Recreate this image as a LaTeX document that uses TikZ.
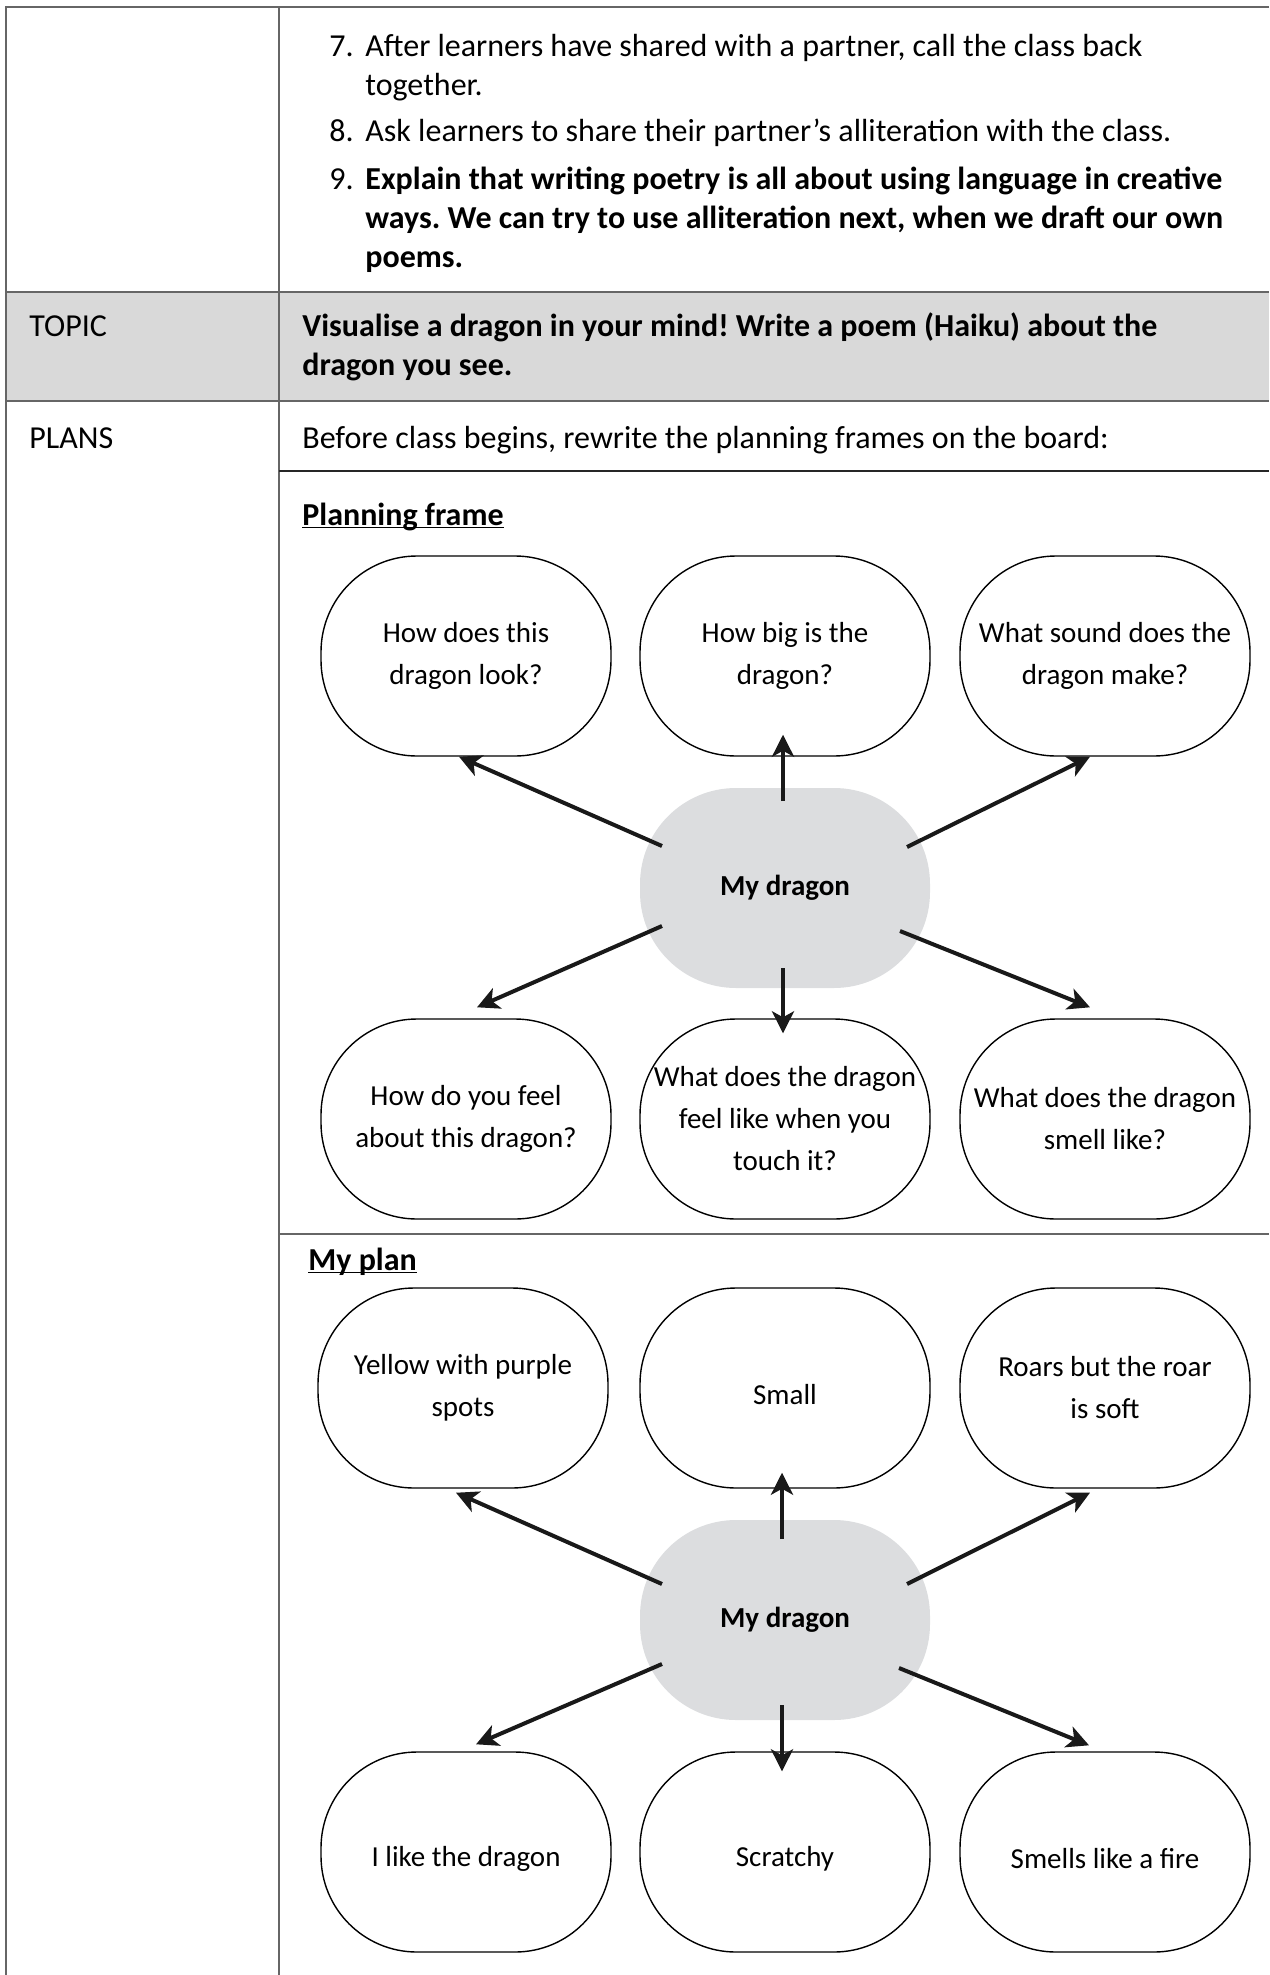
\documentclass[tikz,border=0pt]{standalone}
\usepackage{fontspec}
\setmainfont{Carlito}
\usepackage{xcolor}
\usetikzlibrary{arrows.meta}
\definecolor{hubgrey}{RGB}{220,221,223}
\definecolor{topicgrey}{RGB}{217,217,217}
\frenchspacing
\tikzset{
    rule/.style = {draw=black!60, line width=0.8pt},
    cell/.style = {inner sep=0pt, anchor=base west, align=left, font=\fontsize{16}{19.5}\selectfont},
    boldcell/.style = {cell, font=\fontsize{16}{19.5}\selectfont\bfseries},
    blob/.style = {rectangle, rounded corners=48pt, minimum width=145pt, minimum height=100pt, align=center, inner sep=0pt, font=\fontsize{14.5}{21}\selectfont},
    bubble/.style = {blob, draw=black, line width=0.7pt, execute at begin node={\rule{0pt}{17pt}}},
    hub/.style = {blob, fill=hubgrey, font=\fontsize{14.5}{21}\selectfont\bfseries},
    arr/.style = {-{Stealth[length=11pt,width=11pt,inset=3pt]}, line width=2pt, black!90}
}
\begin{document}
\begin{tikzpicture}[x=0.5pt, y=-0.5pt]
    \useasboundingbox (0,0) rectangle (1269,1975);

    % table
    \fill[topicgrey] (6,292) rectangle (1269,401);
    \draw[rule] (1269,7) -- (6,7) -- (6,1975);
    \draw[rule] (279,7) -- (279,1975);
    \draw[rule] (6,292) -- (1269,292);
    \draw[rule] (6,401) -- (1269,401);
    \draw[rule, draw=black!85] (279,471) -- (1269,471);
    \draw[rule] (279,1234) -- (1269,1234);

    % multi-line cells sit on their last line
    \node[cell] (n7) at (329,57) {7.};
    \node[cell] (t7) at (365,96) {After learners have shared with a partner, call the class back\\together.};
    \node[cell] (n8) at (329,141) {8.};
    \node[cell] (t8) at (365,141) {Ask learners to share their partner’s alliteration with the class.};
    \node[cell] (n9) at (329,189) {9.};
    \node[boldcell] (t9) at (365,267) {Explain that writing poetry is all about using language in creative\\ways. We can try to use alliteration next, when we draft our own\\poems.};

    \node[cell] (topic) at (29,336) {TOPIC};
    \node[boldcell] (topictxt) at (302,375) {Visualise a dragon in your mind! Write a poem (Haiku) about the\\dragon you see.};
    \node[cell] (plans) at (29,448) {PLANS};
    \node[cell] (before) at (302,448) {Before class begins, rewrite the planning frames on the board:};

    % planning frame
    \node[boldcell] (frame) at (302,525) {\underline{\smash{Planning frame}}};
    \node[hub] (mid) at (785,888) {My dragon};
    \node[bubble] (look) at (466,656) {How does this\\dragon look?};
    \node[bubble] (size) at (785,656) {How big is the\\dragon?};
    \node[bubble] (sound) at (1105,656) {What sound does the\\dragon make?};
    \node[bubble] (feel) at (466,1119) {How do you feel\\about this dragon?};
    \node[bubble] (touch) at (785,1119) {What does the dragon\\feel like when you\\touch it?};
    \node[bubble] (smell) at (1105,1119) {What does the dragon\\smell like?};

    \draw[arr] ([shift={(-123,-42)}]mid.center) -- ([shift={(-7,0)}]look.south);
    \draw[arr] ([shift={(-2,-87)}]mid.center) -- ([shift={(-2,-22)}]size.south);
    \draw[arr] ([shift={(122,-41)}]mid.center) -- ([shift={(-15,0)}]sound.south);
    \draw[arr] ([shift={(-123,38)}]mid.center) -- ([shift={(11,-11)}]feel.north);
    \draw[arr] ([shift={(-2,80)}]mid.center) -- ([shift={(-2,15)}]touch.north);
    \draw[arr] ([shift={(115,43)}]mid.center) -- ([shift={(-15,-11)}]smell.north);

    % my plan
    \node[boldcell] (myplan) at (308,1270) {\underline{\smash{My plan}}};
    \node[hub] (pmid) at (785,1620) {My dragon};
    \node[bubble] (plook) at (463,1388) {Yellow with purple\\spots};
    \node[bubble] (psize) at (785,1388) {Small};
    \node[bubble] (psound) at (1105,1388) {Roars but the roar\\is soft};
    \node[bubble] (pfeel) at (466,1852) {I like the dragon};
    \node[bubble] (ptouch) at (785,1852) {Scratchy};
    \node[bubble] (psmell) at (1105,1852) {Smells like a fire};

    \draw[arr] ([shift={(-123,-36)}]pmid.center) -- ([shift={(-7,4)}]plook.south);
    \draw[arr] ([shift={(-3,-81)}]pmid.center) -- ([shift={(-3,-16)}]psize.south);
    \draw[arr] ([shift={(122,-36)}]pmid.center) -- ([shift={(-15,4)}]psound.south);
    \draw[arr] ([shift={(-123,44)}]pmid.center) -- ([shift={(10,-7)}]pfeel.north);
    \draw[arr] ([shift={(-3,85)}]pmid.center) -- ([shift={(-3,20)}]ptouch.north);
    \draw[arr] ([shift={(114,48)}]pmid.center) -- ([shift={(-16,-6)}]psmell.north);
\end{tikzpicture}
\end{document}
